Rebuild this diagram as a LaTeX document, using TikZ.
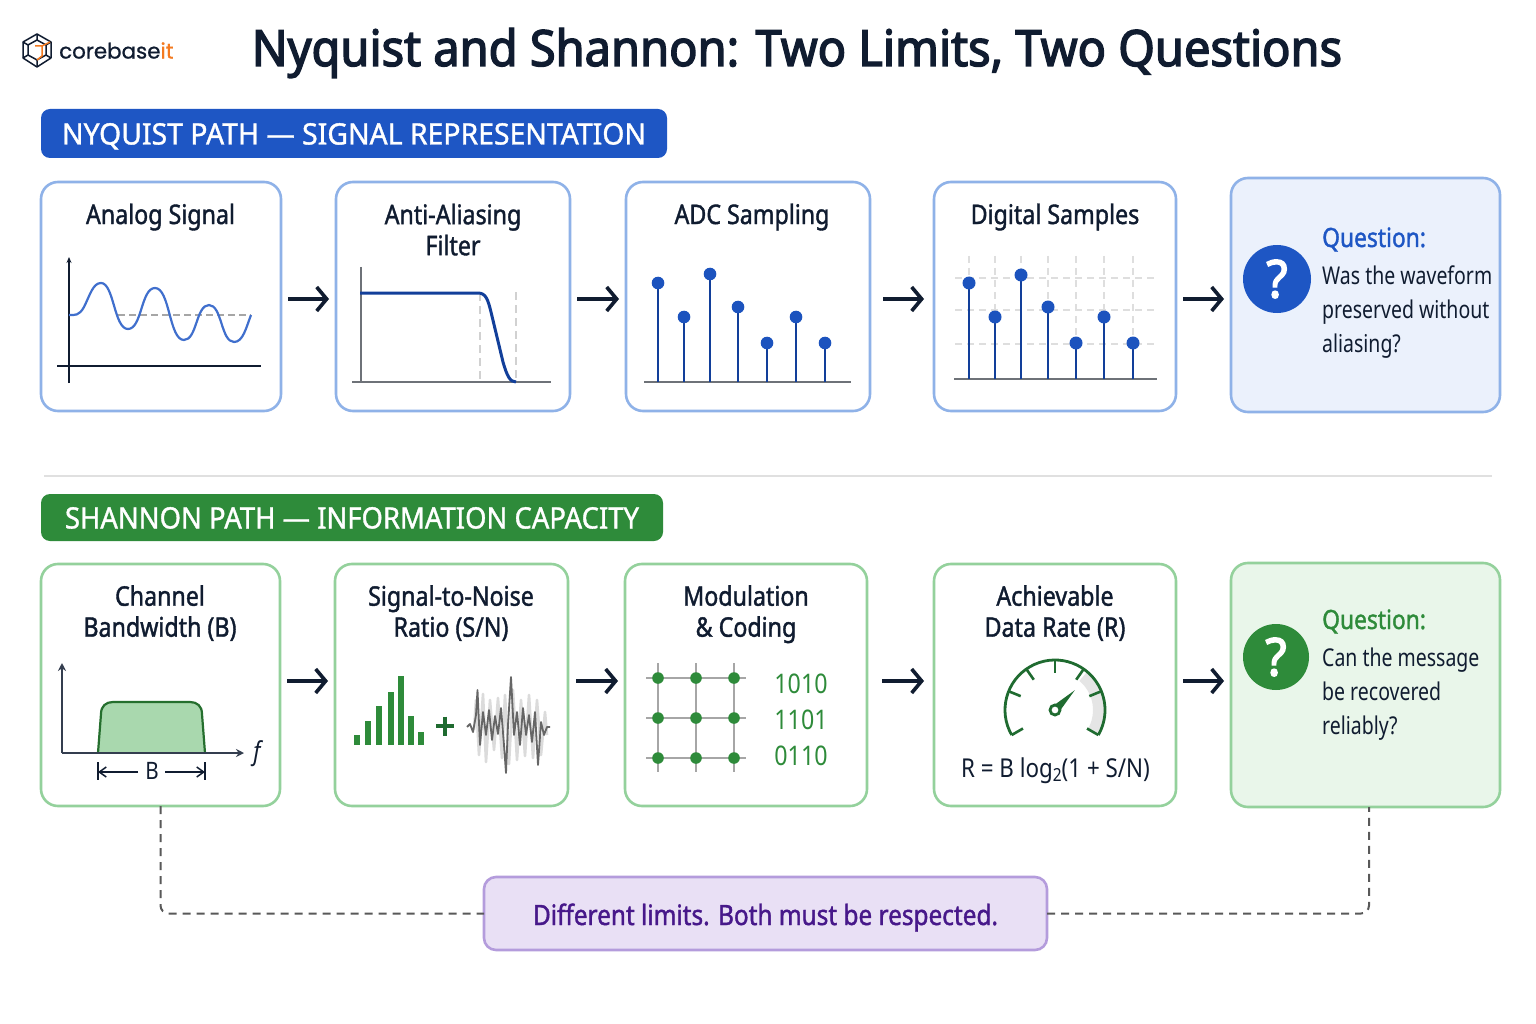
\documentclass[tikz,border=0pt]{standalone}
\usepackage{fontspec}
\usetikzlibrary{arrows.meta,calc}
\setmainfont[FakeStretch=0.86]{Noto Sans}
\newfontfamily\medf[FakeStretch=0.86,FakeBold=1.4]{Noto Sans}
\newfontfamily\notef[FakeStretch=0.87,FakeBold=1.4]{Noto Sans}
\newfontfamily\boldf[FakeStretch=0.94,FakeBold=2.8]{Noto Sans}
\newfontfamily\qf[FakeStretch=0.795]{Noto Sans}
\newfontfamily\pillbf[FakeStretch=0.962,FakeBold=1.2]{Noto Sans}
\newfontfamily\pillgf[FakeStretch=0.93,FakeBold=1.2]{Noto Sans}
\newfontfamily\logof[FakeBold=0.8]{Poppins}
\definecolor{ink}{HTML}{101C30}
\definecolor{bluemain}{HTML}{1E56C4}
\definecolor{bluedark}{HTML}{123F9A}
\definecolor{blueedge}{HTML}{8FB2E8}
\definecolor{bluefill}{HTML}{EBF1FC}
\definecolor{greenmain}{HTML}{2E8B3A}
\definecolor{greendark}{HTML}{1F6B30}
\definecolor{greenedge}{HTML}{94D19C}
\definecolor{greenfill}{HTML}{E9F6EA}
\definecolor{greenlight}{HTML}{A9D8AE}
\definecolor{purplefill}{HTML}{E9E0F5}
\definecolor{purpleedge}{HTML}{B49CDC}
\definecolor{purpletext}{HTML}{47188A}
\definecolor{axisgrey}{HTML}{6E7278}
\definecolor{orangeit}{HTML}{F47A20}
\tikzset{
  card/.style={draw=#1,line width=2.6pt,outer sep=0pt,rounded corners=17pt,fill=white,inner sep=0pt,anchor=north west},
  cardtitle/.style={font=\medf\fontsize{27}{31}\selectfont,text=ink,align=center,inner sep=0pt},
  flow/.style={draw=ink,line width=3.6pt,-{Straight Barb[length=10pt,width=24pt,line width=3.6pt]},shorten <=7pt,shorten >=7pt},
  pill/.style={rounded corners=9pt,outer sep=0pt,inner sep=0pt,anchor=north west,text=white,text height=22pt,text depth=0pt},
  qhead/.style={font=\medf\fontsize{26.5}{30}\selectfont,anchor=base west,inner sep=0pt},
  qline/.style={font=\qf\fontsize{24.5}{30}\selectfont,text=ink,anchor=base west,inner sep=0pt},
  qmark/.style={circle,minimum size=#1,inner sep=0pt,text=white,font=\boldf\fontsize{52}{52}\selectfont},
  stem/.style={draw=bluedark,line width=2.2pt},
  dot/.style={fill=bluemain!85!bluedark},
  baseaxis/.style={draw=axisgrey,line width=2.2pt},
  griddash/.style={draw=black!13,line width=1.5pt,dashed,dash pattern=on 7pt off 5pt},
  link/.style={draw=black!65,line width=2pt,dash pattern=on 8pt off 6pt,rounded corners=8pt},
  bits/.style={font=\fontsize{27}{30}\selectfont,text=greenmain,inner sep=0pt},
}
\begin{document}
\begin{tikzpicture}[x=1pt,y=-1pt]
\useasboundingbox (0,0) rectangle (1536,1024);
\fill[white] (0,0) rectangle (1536,1024);

% logo
\begin{scope}[draw=ink,line width=1.5pt,line join=round]
\draw (37,34) -- (51,42) -- (51,58) -- (37,67) -- (23,58) -- (23,42) -- cycle;
\draw (37,40) -- (46,45) -- (46,55) -- (37,60) -- (28,55) -- (28,45) -- cycle;
\draw (37,34) -- (37,40) (51,42) -- (46,45) (51,58) -- (46,55) (37,67) -- (37,60) (23,58) -- (28,55) (23,42) -- (28,45);
\draw[orangeit] (50,42) -- (42,46) -- (42,56) -- (37,60) (42,46) -- (35,46);
\end{scope}
\node[inner sep=0pt,anchor=west,font=\logof\fontsize{21.4}{26}\selectfont,text=ink] (logo) at (59,50.5) {corebase\textcolor{orangeit}{it}};

% title
\node[inner sep=0pt,text=ink,font=\boldf\fontsize{50}{56}\selectfont] (title) at (797,53) {Nyquist and Shannon: Two Limits, Two Questions};

% bands
\node[pill,fill=bluemain,font=\pillbf\fontsize{29.5}{34}\selectfont,minimum width=626pt,minimum height=49pt] (nyq) at (41,109) {NYQUIST PATH — SIGNAL REPRESENTATION};
\node[pill,fill=greenmain,font=\pillgf\fontsize{29.5}{34}\selectfont,minimum width=622pt,minimum height=47pt] (sha) at (41,494) {SHANNON PATH — INFORMATION CAPACITY};

% separator
\coordinate (sepl) at (44,476);
\coordinate (sepr) at (1492,476);
\draw[black!12,line width=2pt] (sepl) -- (sepr);

% Nyquist cards
\node[card=blueedge,minimum width=240pt,minimum height=229pt] (a1) at (41,182) {};
\node[card=blueedge,minimum width=234pt,minimum height=229pt] (a2) at (336,182) {};
\node[card=blueedge,minimum width=244pt,minimum height=229pt] (a3) at (626,182) {};
\node[card=blueedge,minimum width=242pt,minimum height=229pt] (a4) at (934,182) {};
\node[card=blueedge,minimum width=269pt,minimum height=234pt,fill=bluefill] (a5) at (1231,178) {};
\node[cardtitle] (a1t) at (160.5,217) {Analog Signal};
\node[cardtitle,anchor=north] (a2t) at (453,203.5) {Anti-Aliasing\\Filter};
\node[cardtitle] (a3t) at (752,217) {ADC Sampling};
\node[cardtitle] (a4t) at (1055,217) {Digital Samples};

\draw[flow] ([yshift=-2.5pt]a1.east) -- ([yshift=-2.5pt]a1.east -| a2.west);
\draw[flow] ([yshift=-2.5pt]a2.east) -- ([yshift=-2.5pt]a2.east -| a3.west);
\draw[flow,shorten <=13pt,shorten >=10pt] ([yshift=-2.5pt]a3.east) -- ([yshift=-2.5pt]a3.east -| a4.west);
\draw[flow] ([yshift=-2.5pt]a4.east) -- ([yshift=-2.5pt]a4.east -| a5.west);

% Analog icon
\draw[black!35,line width=1.6pt,dashed,dash pattern=on 7pt off 4pt] (118,315) -- (251,315);
\draw[ink,line width=2.2pt,-{Stealth[length=6pt,width=5pt]}] (69,383) -- (69,257);
\draw[ink,line width=2.4pt] (57,366) -- (261,366);
\draw[bluemain!85!white,line width=2.2pt] (69,315) .. controls (75,315) and (79,316) .. (84,307)
  .. controls (90,295) and (93,283) .. (101,283)
  .. controls (114,283) and (114,329) .. (128,329)
  .. controls (142,329) and (141,288) .. (155,288)
  .. controls (170,288) and (169,340) .. (184,340)
  .. controls (197,340) and (196,305) .. (209,305)
  .. controls (222,305) and (221,342) .. (234,342)
  .. controls (243,342) and (246,328) .. (251,315);

% Filter icon
\draw[black!18,line width=1.6pt,dashed,dash pattern=on 8pt off 5pt] (480,293) -- (480,382);
\draw[black!18,line width=1.6pt,dashed,dash pattern=on 8pt off 5pt] (516,292) -- (516,382);
\draw[axisgrey,line width=2pt] (360.5,267) -- (360.5,382);
\draw[baseaxis] (352,382) -- (551,382);
\draw[bluedark,line width=3pt] (360,293) -- (478,293) .. controls (486,293) and (488,300) .. (491,312)
  -- (503,362) .. controls (507,376) and (510,382) .. (516,382);

% ADC icon
\draw[baseaxis] (644,382) -- (851,382);
\foreach \x/\y in {658/283,684/317,710/274,738/307,767/343,796/317,825/343}{
  \draw[stem] (\x,382) -- (\x,\y);
  \fill[dot] (\x,\y) circle (6.3pt);
}

% Digital icon
\foreach \y in {278,310,344} \draw[griddash] (955,\y) -- (1154,\y);
\foreach \x in {969,995,1021,1048,1076,1104,1133} \draw[griddash] (\x,256) -- (\x,379);
\draw[baseaxis] (954,379) -- (1157,379);
\foreach \x/\y in {969/283,995/317,1021/275,1048/307,1076/343,1104/317,1133/343}{
  \draw[stem] (\x,379) -- (\x,\y);
  \fill[dot] (\x,\y) circle (6.5pt);
}

% Nyquist question
\node[qmark=68pt,fill=bluemain] (q1) at (1277,279) {?};
\node[qhead,text=bluemain] (q1h) at (1322,247) {Question:};
\node[qline] (q1a) at (1322,284) {Was the waveform};
\node[qline] (q1b) at (1322,318) {preserved without};
\node[qline] (q1c) at (1322,352) {aliasing?};

% Shannon cards
\node[card=greenedge,minimum width=239pt,minimum height=242pt] (b1) at (41,564) {};
\node[card=greenedge,minimum width=233pt,minimum height=242pt] (b2) at (335,564) {};
\node[card=greenedge,minimum width=242pt,minimum height=242pt] (b3) at (625,564) {};
\node[card=greenedge,minimum width=242pt,minimum height=242pt] (b4) at (934,564) {};
\node[card=greenedge,minimum width=269pt,minimum height=244pt,fill=greenfill] (b5) at (1231,563) {};
\node[cardtitle,anchor=north] (b1t) at (160,585) {Channel\\Bandwidth (B)};
\node[cardtitle,anchor=north] (b2t) at (451,585) {Signal-to-Noise\\Ratio (S/N)};
\node[cardtitle,anchor=north] (b3t) at (746,585) {Modulation\\\& Coding};
\node[cardtitle,anchor=north] (b4t) at (1055,585) {Achievable\\Data Rate (R)};

\draw[flow] ([yshift=4pt]b1.east) -- ([yshift=4pt]b1.east -| b2.west);
\draw[flow,shorten <=8pt] ([yshift=4pt]b2.east) -- ([yshift=4pt]b2.east -| b3.west);
\draw[flow,shorten <=15pt,shorten >=10pt] ([yshift=4pt]b3.east) -- ([yshift=4pt]b3.east -| b4.west);
\draw[flow] ([yshift=4pt]b4.east) -- ([yshift=4pt]b4.east -| b5.west);

% Channel icon
\draw[draw=greenmain!80!black,fill=greenlight,line width=2.2pt] (98,753) -- (101,714)
  .. controls (101,706) and (106,702) .. (113,702) -- (190,702)
  .. controls (197,702) and (202,706) .. (202,714) -- (205,753);
\draw[ink!85,line width=2pt,-{Stealth[length=8pt,width=8pt]}] (62,753) -- (62,663);
\draw[ink!85,line width=2pt,-{Stealth[length=8pt,width=8pt]}] (62,753) -- (244,753);
\node[inner sep=0pt,text=ink,font=\itshape\fontsize{26}{30}\selectfont] (flabel) at (257,754) {f};
\node[inner sep=0pt,text=ink,font=\fontsize{24}{28}\selectfont] (blabel) at (152,771) {B};
\coordinate (bl) at (98,772);
\coordinate (br) at (205,772);
\draw[ink,line width=1.5pt] (98,762) -- (98,780) (205,762) -- (205,780);
\draw[ink,line width=1.5pt,-{Straight Barb[length=7pt,width=10pt]}] (138,772) -- (bl);
\draw[ink,line width=1.5pt,-{Straight Barb[length=7pt,width=10pt]}] (165,772) -- (br);

% S/N icon
\foreach \x/\y in {354/735,365/721,376/706,388/692,398/676,408/716,418/732}
  \fill[greenmain] (\x,\y) rectangle ++(6,745-\y);
\draw[greendark,line width=3.4pt] (436,726) -- (454,726) (445,716.5) -- (445,735.5);
\draw[black!14,line width=2.6pt,line join=round] (474,730) -- (476,700) -- (479,755) -- (483,694) -- (486,762)
  -- (490,700) -- (494,750) -- (498,698) -- (502,758) -- (505,695) -- (509,764) -- (513,690) -- (517,760)
  -- (521,700) -- (525,756) -- (529,695) -- (533,758) -- (537,700) -- (541,755) -- (545,712) -- (547,735);
\draw[black!60,line width=1.8pt,line join=round] (467,727) -- (470,724) -- (473,732) -- (476,715) -- (477.5,690)
  -- (480,745) -- (483,712) -- (486,735) -- (489,710) -- (492,740) -- (495,716) -- (498,734) -- (501,708)
  -- (504,745) -- (506,773) -- (508,725) -- (511,677) -- (514,735) -- (517,712) -- (520,745) -- (523,708)
  -- (526,735) -- (529,715) -- (532,742) -- (535,712) -- (538,765) -- (541,722) -- (544,735) -- (547,727) -- (550,727);

% Constellation icon
\foreach \y in {678,718,758} \draw[black!35,line width=1.8pt] (646,\y) -- (746,\y);
\foreach \x in {658,696,734} \draw[black!35,line width=1.8pt] (\x,663) -- (\x,772);
\foreach \x in {658,696,734} \foreach \y in {678,718,758} \fill[greenmain] (\x,\y) circle (5.8pt);
\node[bits] (bit1) at (801,684) {1010};
\node[bits] (bit2) at (801,720) {1101};
\node[bits] (bit3) at (801,756) {0110};

% Gauge icon
\begin{scope}[shift={(1055,710)},yscale=-1]
\fill[black!10] (50:50) arc[start angle=50,end angle=-30,radius=50] -- (-30:38) arc[start angle=-30,end angle=50,radius=38] -- cycle;
\draw[greendark,line width=2.8pt] (210:50) arc[start angle=210,end angle=-30,radius=50];
\foreach \a in {210,158,125,90,55,22,-30} \draw[greendark,line width=2.6pt] (\a:50) -- (\a:37);
\fill[greendark] (45:28) -- (135:4.5) -- (-45:4.5) -- cycle;
\draw[greendark,fill=white,line width=2.8pt] (0,0) circle (5pt);
\end{scope}
\node[inner sep=0pt,text=ink,font=\fontsize{26}{30}\selectfont] (rate) at (1055.5,771) {R = B log\raisebox{-4pt}{\fontsize{18}{20}\selectfont 2}(1 + S/N)};

% Shannon question
\node[qmark=66pt,fill=greenmain] (q2) at (1276,657) {?};
\node[qhead,text=greenmain] (q2h) at (1322,629) {Question:};
\node[qline] (q2a) at (1322,666) {Can the message};
\node[qline] (q2b) at (1322,700) {be recovered};
\node[qline] (q2c) at (1322,734) {reliably?};

% conclusion
\node[draw=purpleedge,fill=purplefill,line width=2.6pt,outer sep=0pt,rounded corners=12pt,minimum width=563pt,minimum height=73pt,inner sep=0pt,text=purpletext,text height=23pt,text depth=0pt,font=\notef\fontsize{28}{32}\selectfont] (note) at (765.5,913.5) {Different limits. Both must be respected.};
\draw[link] (b1.south) -- (b1.south |- note.west) -- (note.west);
\draw[link] (note.east) -- ([xshift=3.5pt]b5.south |- note.east) -- ([xshift=3.5pt]b5.south);
\end{tikzpicture}
\end{document}
